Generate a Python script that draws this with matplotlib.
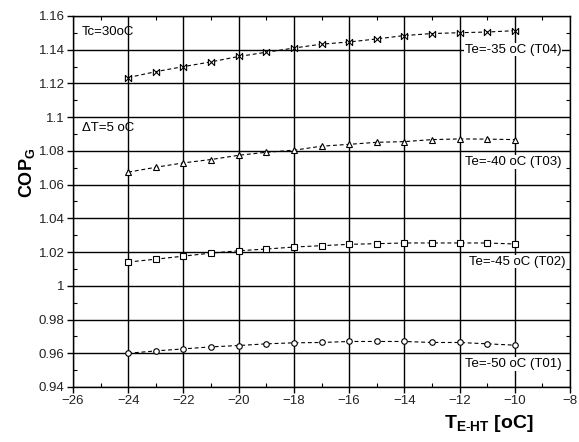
import matplotlib
matplotlib.use('Agg')
import matplotlib.pyplot as plt
from matplotlib.path import Path
from matplotlib.ticker import MultipleLocator, FuncFormatter

plt.rcParams['font.family'] = ['Liberation Sans', 'DejaVu Sans']
plt.rcParams['mathtext.fontset'] = 'custom'
plt.rcParams['mathtext.rm'] = 'Liberation Sans'
plt.rcParams['mathtext.bf'] = 'Liberation Sans:bold'

# data
t_eht = [-24, -23, -22, -21, -20, -19, -18, -17, -16, -15, -14, -13, -12, -11, -10]
cop_t04 = [1.1235, 1.127, 1.130, 1.1328, 1.136, 1.1385, 1.141, 1.1433, 1.1446,
           1.1464, 1.1484, 1.1496, 1.1501, 1.1505, 1.1513]
cop_t03 = [1.0674, 1.0703, 1.0729, 1.0749, 1.0774, 1.0792, 1.0804, 1.0828, 1.0839,
           1.0851, 1.0855, 1.0867, 1.0871, 1.0870, 1.0867]
cop_t02 = [1.0141, 1.0158, 1.0176, 1.0194, 1.0208, 1.0218, 1.0230, 1.0238, 1.0246,
           1.0250, 1.0254, 1.0254, 1.0254, 1.0254, 1.0248]
cop_t01 = [0.9600, 0.9614, 0.9626, 0.9638, 0.9646, 0.9656, 0.9662, 0.9664, 0.9670,
           0.9670, 0.9670, 0.9664, 0.9664, 0.9656, 0.9648]

series_labels = ['Te=-35 oC (T04)', 'Te=-40 oC (T03)', 'Te=-45 oC (T02)', 'Te=-50 oC (T01)']

# bowtie marker |><|
bowtie = Path([(-1, -1), (-1, 1), (1, -1), (1, 1), (-1, -1)],
              [Path.MOVETO, Path.LINETO, Path.LINETO, Path.LINETO, Path.CLOSEPOLY])

fig = plt.figure(figsize=(5.79, 4.42), dpi=100)
ax = fig.add_axes([73/579, 1-387/442, 497/579, 371/442])

ax.grid(True, which='major', color='black', lw=1.0, zorder=0)
ax.set_axisbelow(True)

style = dict(color='black', ls=(0, (3.5, 2.5)), lw=0.8, mfc='white', mec='black', mew=0.8, zorder=3)
ax.plot(t_eht, cop_t04, marker=bowtie, ms=4.5, **style)
ax.plot(t_eht, cop_t03, marker='^', ms=5, **style)
ax.plot(t_eht, cop_t02, marker='s', ms=4.8, **style)
ax.plot(t_eht, cop_t01, marker='o', ms=4, **style)

ax.set_xlim(-26, -8)
ax.set_ylim(0.94, 1.16)
ax.xaxis.set_major_locator(MultipleLocator(2))
ax.xaxis.set_minor_locator(MultipleLocator(1))
ax.yaxis.set_major_locator(MultipleLocator(0.02))
ax.yaxis.set_minor_locator(MultipleLocator(0.01))
ax.yaxis.set_major_formatter(FuncFormatter(lambda v, p: ('%.2f' % v).rstrip('0').rstrip('.')))

ax.tick_params(which='major', direction='out', length=4, width=1, labelsize=9.5,
               labelcolor='#222222', pad=2)
ax.tick_params(which='minor', direction='in', length=3, width=0.8,
               top=True, right=True)
for s in ax.spines.values():
    s.set_linewidth(1.0)

bbox = dict(facecolor='white', edgecolor='none', pad=0.5)
ax.text(-11.82, 1.1400, series_labels[0], fontsize=9.5, va='center', ha='left', bbox=bbox, zorder=4)
ax.text(-11.82, 1.0734, series_labels[1], fontsize=9.5, va='center', ha='left', bbox=bbox, zorder=4)
ax.text(-11.64, 1.0143, series_labels[2], fontsize=9.5, va='center', ha='left', bbox=bbox, zorder=4)
ax.text(-11.82, 0.9537, series_labels[3], fontsize=9.5, va='center', ha='left', bbox=bbox, zorder=4)

ax.text(-25.68, 1.1505, 'Tc=30oC', fontsize=9.5, va='center', ha='left')
ax.text(-25.68, 1.0936, 'ΔT=5 oC', fontsize=9.5, va='center', ha='left')

fig.text(27/579, 1-173/442, r'$\mathbf{COP_G}$', rotation=90, fontsize=13,
         ha='center', va='center')
fig.text(489/579, 1-423/442, r'$\mathbf{T_{E\text{-}HT}}$ [oC]', fontsize=14,
         fontweight='bold', ha='center', va='center')

fig.savefig('out.png', dpi=100)
